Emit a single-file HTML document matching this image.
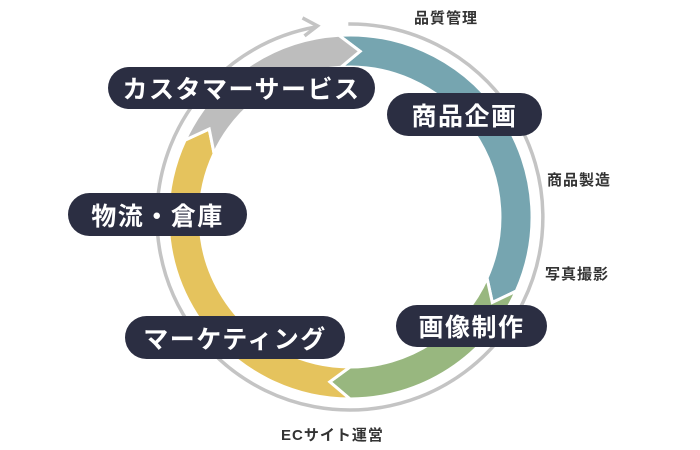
<!DOCTYPE html>
<html><head><meta charset="utf-8"><style>
body{margin:0;width:700px;height:450px;background:#fff;overflow:hidden;position:relative;font-family:"Liberation Sans","Noto Sans CJK JP",sans-serif}
.p{position:absolute;background:#2b2e42;color:#fff;border-radius:22px;font-size:25px;font-weight:bold;display:flex;align-items:center;justify-content:center;letter-spacing:1.5px}
.s{position:absolute;font-size:15px;font-weight:bold;color:#333;white-space:nowrap;letter-spacing:1px}
svg{position:absolute;left:0;top:0}
</style></head><body>
<svg id="g" width="700" height="450"></svg>
<div class="p" style="left:108px;top:67px;width:267px;height:42px">カスタマーサービス</div>
<div class="p" style="left:387px;top:93px;width:155px;height:43px">商品企画</div>
<div class="p" style="left:68px;top:193px;width:179px;height:43px">物流・倉庫</div>
<div class="p" style="left:125px;top:316px;width:220px;height:43px">マーケティング</div>
<div class="p" style="left:396px;top:305px;width:151px;height:42px">画像制作</div>
<div class="s" style="left:414px;top:7px">品質管理</div>
<div class="s" style="left:547px;top:169px">商品製造</div>
<div class="s" style="left:545px;top:263px">写真撮影</div>
<div class="s" style="left:281px;top:424px">ECサイト運営</div>
<script>
var cx=350,cy=217,Ro=182,Ri=150,Rm=166,d=7;
function pt(r,a){a=a*Math.PI/180;return (cx+r*Math.sin(a)).toFixed(1)+","+(cy-r*Math.cos(a)).toFixed(1);}
function seg(a1,a2,c){var lg=(a2-a1)>180?1:0;
return '<path d="M'+pt(Ro,a1)+' A'+Ro+','+Ro+' 0 '+lg+' 1 '+pt(Ro,a2)+' L'+pt(Rm,a2+d)+' L'+pt(Ri,a2)+' A'+Ri+','+Ri+' 0 '+lg+' 0 '+pt(Ri,a1)+' L'+pt(Rm,a1+d)+' Z" fill="'+c+'" stroke="#fff" stroke-width="3" stroke-linejoin="miter"/>';}
var R=193,h='';
h+='<path d="M'+pt(R,-0.5)+' A'+R+','+R+' 0 1 1 '+pt(R,350)+'" fill="none" stroke="#c4c4c4" stroke-width="3.5"/>';
var t=pt(R,350).split(',');var tx=+t[0],ty=+t[1];
h+='<polyline points="'+(tx-14)+','+(ty-9)+' '+(tx+1)+','+(ty-1)+' '+(tx-12)+','+(ty+9)+'" fill="none" stroke="#c4c4c4" stroke-width="3.5"/>';
h+=seg(-3.5,114,'#76a5b0');
h+=seg(114,180,'#98b77f');
h+=seg(180,295,'#e5c35d');
h+=seg(295,356.5,'#bdbdbd');
document.getElementById('g').innerHTML=h;
</script>
</body></html>
